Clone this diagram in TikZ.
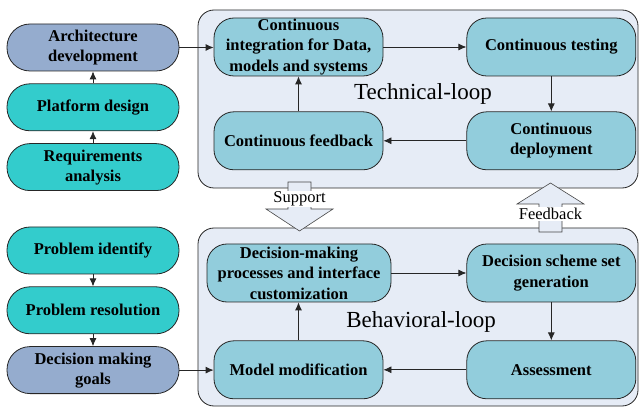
\documentclass[tikz,border=0pt]{standalone}
\usepackage{fontspec}
\setmainfont{Liberation Serif}
\usetikzlibrary{positioning,arrows.meta}
\definecolor{goalblue}{RGB}{149,172,206}
\definecolor{stepteal}{RGB}{51,204,204}
\definecolor{loopcyan}{RGB}{146,205,220}
\definecolor{loopback}{RGB}{230,236,246}
\definecolor{edgegray}{RGB}{38,38,38}

\begin{document}
\begin{tikzpicture}[x=1pt, y=-1pt,
    pill/.style={draw=edgegray, line width=0.8pt, rounded corners=23pt, minimum width=172pt, minimum height=47pt, inner sep=0pt, align=center, font=\fontsize{16.5}{20}\selectfont\bfseries},
    task/.style={draw=edgegray, line width=0.8pt, fill=loopcyan, rounded corners=20pt, minimum width=169pt, minimum height=58pt, inner sep=0pt, align=center, font=\fontsize{16.5}{20.5}\selectfont\bfseries},
    flow/.style={draw=edgegray, line width=0.8pt, -{Latex[length=8pt,width=7pt]}},
    loopbox/.style={draw=edgegray, line width=0.8pt, fill=loopback, rounded corners=16pt},
    bigarrow/.style={draw=edgegray!85, line width=0.6pt, fill=loopback},
    tag/.style={fill=white, inner sep=1pt, font=\fontsize{16.5}{18}\selectfont}]
    \useasboundingbox (0,0) rectangle (641,409);

    % the two loops
    \draw[loopbox] (198,10) rectangle (638,188);
    \draw[loopbox] (198,228) rectangle (638,406);
    \node[font=\fontsize{23}{26}\selectfont] (techloop) at (423,94) {Technical-loop};
    \node[font=\fontsize{23}{26}\selectfont] (behavloop) at (421,322) {Behavioral-loop};

    % block arrows between the loops
    \draw[bigarrow] (288,182) -- (311,182) -- (311,209) -- (333,209) -- (299.5,231) -- (266,209) -- (288,209) -- cycle;
    \node[tag] (support) at (299.5,199) {Support};
    \draw[bigarrow] (539,232) -- (539,204) -- (517,204) -- (550.5,183) -- (584,204) -- (562,204) -- (562,232) -- cycle;
    \node[tag] (fback) at (550.5,214) {Feedback};

    % left column
    \node[pill, fill=goalblue] (arch) at (93,47.5) {Architecture\\development};
    \node[pill, fill=stepteal, below=12pt of arch] (platform) {Platform design};
    \node[pill, fill=stepteal, below=12pt of platform] (require) {Requirements\\analysis};
    \node[pill, fill=stepteal] (ident) at (93,250.5) {Problem identify};
    \node[pill, fill=stepteal, below=12pt of ident] (resol) {Problem resolution};
    \node[pill, fill=goalblue, below=12pt of resol] (goals) {Decision making\\goals};

    % technical loop
    \node[task] (integ) at (298.5,47) {Continuous\\integration for Data,\\models and systems};
    \node[task, right=83pt of integ] (testing) {Continuous testing};
    \node[task, below=35pt of testing] (deploy) {Continuous\\deployment};
    \node[task, left=83pt of deploy] (cfeed) {Continuous feedback};

    % behavioral loop
    \node[task, minimum width=184pt] (process) at (299,273) {Decision-making\\processes and interface\\customization};
    \node[task, right=75pt of process] (scheme) {Decision scheme set\\generation};
    \node[task, below=38pt of scheme] (assess) {Assessment};
    \node[task, left=83pt of assess] (modify) {Model modification};

    \draw[flow] (require) -- (platform);
    \draw[flow] (platform) -- (arch);
    \draw[flow] (ident) -- (resol);
    \draw[flow] (resol) -- (goals);
    \draw[flow] (arch.east) -- (integ.west |- arch.east);
    \draw[flow] (goals.east) -- (modify.west |- goals.east);
    \draw[flow] (integ) -- (testing);
    \draw[flow] (testing) -- (deploy);
    \draw[flow] (deploy) -- (cfeed);
    \draw[flow] (cfeed) -- (integ);
    \draw[flow] (process) -- (scheme);
    \draw[flow] (scheme) -- (assess);
    \draw[flow] (assess) -- (modify);
    \draw[flow] (modify.north) -- (modify.north |- process.south);
\end{tikzpicture}
\end{document}
